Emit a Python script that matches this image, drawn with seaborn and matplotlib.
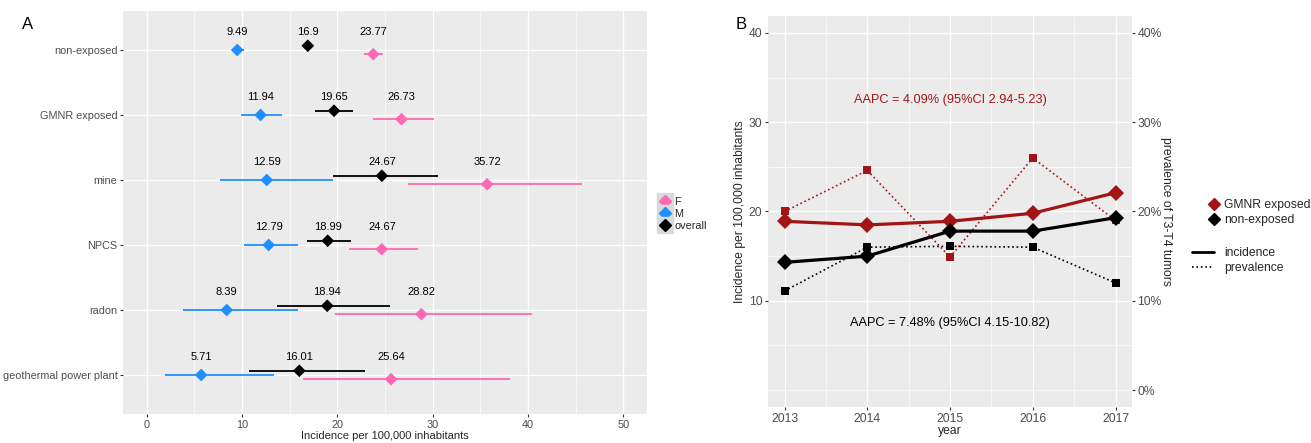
import numpy as np
import pandas as pd
import matplotlib
matplotlib.use("Agg")
import matplotlib.pyplot as plt
from matplotlib.lines import Line2D
from matplotlib.legend_handler import HandlerTuple
from matplotlib.ticker import MultipleLocator, FixedLocator
import seaborn as sns

# --- Panel A: incidence by site and sex ---
SITES = ['non-exposed', 'GMNR exposed', 'mine', 'NPCS', 'radon', 'geothermal power plant']
F_RATE = [23.77, 26.73, 35.72, 24.67, 28.82, 25.64]
F_LO = [22.8, 23.7, 27.4, 21.2, 19.8, 16.4]
F_HI = [24.8, 30.1, 45.7, 28.5, 40.4, 38.1]
M_RATE = [9.49, 11.94, 12.59, 12.79, 8.39, 5.71]
M_LO = [8.9, 9.9, 7.7, 10.2, 3.8, 1.9]
M_HI = [10.2, 14.2, 19.5, 15.9, 15.9, 13.3]
ALL_RATE = [16.9, 19.65, 24.67, 18.99, 18.94, 16.01]
ALL_LO = [16.4, 17.7, 19.5, 16.8, 13.7, 10.7]
ALL_HI = [17.4, 21.6, 30.6, 21.4, 25.5, 22.9]

# --- Panel B: trends 2013-2017 ---
YEARS = [2013, 2014, 2015, 2016, 2017]
GMNR_INC = [18.9, 18.5, 18.9, 19.8, 22.1]
NONEXP_INC = [14.3, 15.0, 17.8, 17.8, 19.3]
GMNR_PREV = [20.0, 24.6, 14.9, 26.0, 19.0]    # %
NONEXP_PREV = [11.1, 16.0, 16.1, 16.0, 12.0]  # %

PAL_A = {'F': '#FF69B4', 'M': '#1E8FFF', 'overall': '#000000'}
DODGE = {'F': 0.065, 'M': 0.0, 'overall': -0.065}
DARKRED = '#A31515'
PAL_B = {'GMNR exposed': DARKRED, 'non-exposed': '#000000'}
TICK_C = '#4D4D4D'

sns.set_theme(style='darkgrid', rc={
    'axes.facecolor': '#EBEBEB', 'grid.color': 'white',
    'axes.edgecolor': 'none', 'xtick.bottom': True, 'ytick.left': True,
    'xtick.color': '#333333', 'ytick.color': '#333333',
    'xtick.labelcolor': TICK_C, 'ytick.labelcolor': TICK_C,
    'xtick.major.size': 2.5, 'ytick.major.size': 2.5,
    'xtick.minor.size': 0, 'ytick.minor.size': 0,
    'xtick.major.width': 0.8, 'ytick.major.width': 0.8,
    'xtick.major.pad': 1.5, 'ytick.major.pad': 1.5,
})
plt.rcParams['font.family'] = ['Liberation Sans', 'DejaVu Sans']

# long tables
rows = []
for grp, rate, lo, hi in [('F', F_RATE, F_LO, F_HI), ('M', M_RATE, M_LO, M_HI),
                          ('overall', ALL_RATE, ALL_LO, ALL_HI)]:
    for i, site in enumerate(SITES):
        rows.append(dict(site=site, group=grp, rate=rate[i], lo=lo[i], hi=hi[i],
                         ypos=i + DODGE[grp]))
df_a = pd.DataFrame(rows)

df_b = pd.concat([
    pd.DataFrame(dict(year=YEARS, value=GMNR_INC, group='GMNR exposed', measure='incidence')),
    pd.DataFrame(dict(year=YEARS, value=NONEXP_INC, group='non-exposed', measure='incidence')),
    pd.DataFrame(dict(year=YEARS, value=GMNR_PREV, group='GMNR exposed', measure='prevalence')),
    pd.DataFrame(dict(year=YEARS, value=NONEXP_PREV, group='non-exposed', measure='prevalence')),
])

fig = plt.figure(figsize=(13.11, 4.43), dpi=100)
axA = fig.add_axes([0.0938, 0.0655, 0.3997, 0.9097])
axB = fig.add_axes([0.5858, 0.0813, 0.2777, 0.8826])

# ---------------- Panel A ----------------
axA.hlines(df_a['ypos'], df_a['lo'], df_a['hi'], colors=df_a['group'].map(PAL_A),
           linewidth=1.3, zorder=2)
sns.scatterplot(data=df_a, x='rate', y='ypos', hue='group', palette=PAL_A,
                marker='D', s=42, linewidth=0, legend=False, ax=axA, zorder=3)
for _, r in df_a.iterrows():
    axA.text(r['rate'], SITES.index(r['site']) - 0.28, f"{r['rate']:g}",
             ha='center', va='center', fontsize=8, color='black')
axA.set_xlim(-2.5, 52.5)
axA.set_ylim(5.6, -0.6)
axA.set_yticks(range(len(SITES)))
axA.set_yticklabels(SITES, fontsize=7.8)
axA.xaxis.set_major_locator(MultipleLocator(10))
axA.xaxis.set_minor_locator(MultipleLocator(5))
axA.tick_params(axis='x', labelsize=7.8)
axA.grid(which='major', color='white', linewidth=1.0)
axA.grid(which='minor', axis='x', color='white', linewidth=0.5)
axA.set_xlabel('Incidence per 100,000 inhabitants', fontsize=8, labelpad=1)
axA.set_ylabel('')

legA_handles = [(Line2D([], [], marker='s', ms=11.5, color='#DADADA', ls='none'),
                 Line2D([], [], marker='D', ms=6.5, color=PAL_A[g], ls='none'))
                for g in ['F', 'M', 'overall']]
fig.legend(legA_handles, ['F', 'M', 'overall'],
           handler_map={tuple: HandlerTuple(ndivide=1, pad=0)},
           loc='upper left', bbox_to_anchor=(0.499, 0.568), frameon=False, fontsize=7.8,
           handlelength=1.0, handletextpad=0.35, labelspacing=0.2, borderpad=0)

# ---------------- Panel B ----------------
inc = df_b[df_b['measure'] == 'incidence']
prev = df_b[df_b['measure'] == 'prevalence']
sns.lineplot(data=prev, x='year', y='value', hue='group', palette=PAL_B, marker='s',
             markersize=5.5, markeredgewidth=0, linewidth=1.2, linestyle=':',
             legend=False, ax=axB, zorder=2)
sns.lineplot(data=inc, x='year', y='value', hue='group', palette=PAL_B, marker='D',
             markersize=8, markeredgewidth=0, linewidth=2.3, legend=False, ax=axB, zorder=3)
axB.set_xlim(2012.8, 2017.2)
axB.set_ylim(-1.9, 41.9)
axB.xaxis.set_major_locator(FixedLocator(YEARS))
axB.xaxis.set_minor_locator(MultipleLocator(0.5))
axB.set_xticklabels([str(y) for y in YEARS])
axB.yaxis.set_major_locator(FixedLocator([10, 20, 30, 40]))
axB.yaxis.set_minor_locator(FixedLocator([0, 5, 15, 25, 35]))
axB.tick_params(labelsize=8.7)
axB.grid(which='major', color='white', linewidth=1.0)
axB.grid(which='minor', color='white', linewidth=0.5)
axB.set_xlabel('year', fontsize=8.7, labelpad=0)
axB.set_ylabel('Incidence per 100,000 inhabitants', fontsize=8.7, labelpad=2)

axB.text(2015, 32.5, 'AAPC = 4.09% (95%CI 2.94-5.23)', ha='center', va='center',
         fontsize=9.2, color=DARKRED)
axB.text(2015, 7.5, 'AAPC = 7.48% (95%CI 4.15-10.82)', ha='center', va='center',
         fontsize=9.2, color='black')

axB2 = axB.twinx()
axB2.set_ylim(axB.get_ylim())
axB2.yaxis.set_major_locator(FixedLocator([0, 10, 20, 30, 40]))
axB2.set_yticklabels(['0%', '10%', '20%', '30%', '40%'])
axB2.grid(False)
axB2.tick_params(axis='y', right=True, labelsize=8.7, length=2.5, pad=1.5)
axB2.set_ylabel('prevalence of T3-T4 tumors', rotation=270, fontsize=8.7, labelpad=7)

legB1 = [Line2D([], [], marker='D', ms=6, color=PAL_B[g], ls='none') for g in PAL_B]
fig.legend(legB1, list(PAL_B), loc='upper left', bbox_to_anchor=(0.918, 0.565),
           frameon=False, fontsize=8.7, handlelength=0.8, handletextpad=0.4,
           labelspacing=0.25, borderpad=0)
legB2 = [Line2D([], [], color='black', lw=2.0, ls='-'),
         Line2D([], [], color='black', lw=1.2, ls=':')]
fig.legend(legB2, ['incidence', 'prevalence'], loc='upper left', bbox_to_anchor=(0.905, 0.455),
           frameon=False, fontsize=8.7, handlelength=1.8, handletextpad=0.8,
           labelspacing=0.25, borderpad=0)

fig.text(0.017, 0.935, 'A', fontsize=12, color='black')
fig.text(0.561, 0.935, 'B', fontsize=12, color='black')

fig.savefig('out.png', dpi=100, facecolor='white')
